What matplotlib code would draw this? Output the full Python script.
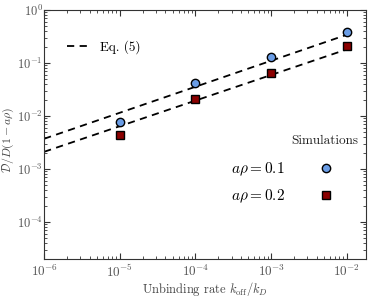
import matplotlib
matplotlib.use('Agg')
import matplotlib.pyplot as plt
from matplotlib.lines import Line2D

plt.rcParams['font.family'] = ['cmr10', 'DejaVu Serif']
plt.rcParams['mathtext.fontset'] = 'cm'
plt.rcParams['axes.formatter.use_mathtext'] = True

# simulation points
k_sim = [1e-5, 1e-4, 1e-3, 1e-2]
sim_01 = [0.0078, 0.042, 0.13, 0.38]
sim_02 = [0.0044, 0.021, 0.065, 0.21]

# Eq. (5) lines (straight in log-log, end points)
k_eq = [1e-6, 1e-2]
eq_01 = [0.0037, 0.34]
eq_02 = [0.0021, 0.18]

fig = plt.figure(figsize=(3.74, 3.0), dpi=100)
ax = fig.add_axes([0.118, 0.137, 0.861, 0.830])

ax.plot(k_eq, eq_01, ls=(0, (4, 3)), color='black', lw=1.3)
ax.plot(k_eq, eq_02, ls=(0, (4, 3)), color='black', lw=1.3)
ax.plot(k_sim, sim_01, 'o', ms=6, mfc='#6a9de6', mec='black', mew=1.0, ls='none')
ax.plot(k_sim, sim_02, 's', ms=5.5, mfc='#8b0000', mec='black', mew=1.0, ls='none')

ax.set_xscale('log')
ax.set_yscale('log')
ax.set_xlim(1e-6, 1.8e-2)
ax.set_ylim(2e-5, 1)

ax.tick_params(which='both', direction='in', top=True, right=True,
               labelsize=9.5, colors='#333333', labelcolor='#555555')
ax.tick_params(which='major', length=4)
ax.tick_params(which='minor', length=2)
ax.tick_params(axis='y', pad=1, labelsize=9)
for s in ax.spines.values():
    s.set_color('#333333')

ax.set_xlabel(r'Unbinding rate $k_{\rm off}/k_D$', fontsize=9, color='#444444', labelpad=0)
ax.set_ylabel(r'$\mathcal{D}/D(1-a\rho)$', fontsize=8.5, color='#444444')
ax.yaxis.set_label_coords(-0.088, 0.48)

h_eq = Line2D([], [], ls=(0, (4, 3)), color='black', lw=1.3)
leg1 = ax.legend([h_eq], ['Eq. (5)'], loc='upper left', bbox_to_anchor=(0.035, 0.925),
                 frameon=False, fontsize=9.5, handlelength=1.9, handletextpad=0.6)
ax.add_artist(leg1)

ax.text(0.975, 0.475, 'Simulations', transform=ax.transAxes, ha='right', va='center',
        fontsize=9.5, color='#222222')
h1 = Line2D([], [], marker='o', ms=6, mfc='#6a9de6', mec='black', mew=1.0, ls='none')
h2 = Line2D([], [], marker='s', ms=5.5, mfc='#8b0000', mec='black', mew=1.0, ls='none')
leg2 = ax.legend([h1, h2], [r'$a\rho = 0.1$', r'$a\rho = 0.2$'], loc='upper right',
                 bbox_to_anchor=(0.965, 0.45), frameon=False, fontsize=11,
                 markerfirst=False, labelspacing=0.6, handletextpad=1.7)

fig.savefig('out.png', dpi=100)
